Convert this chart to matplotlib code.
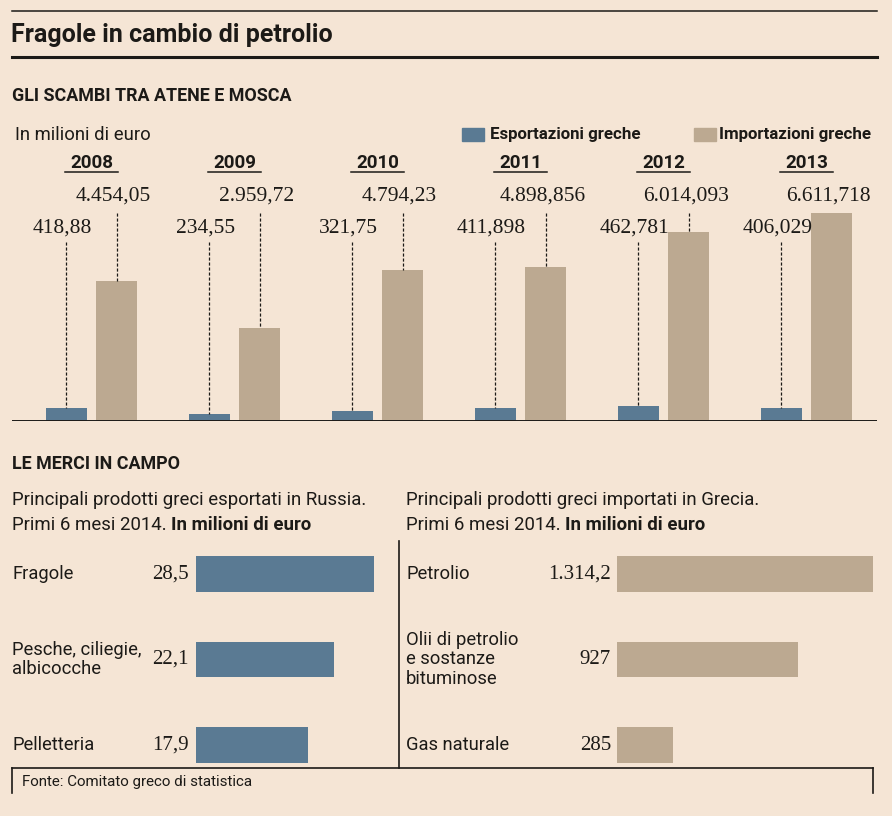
import numpy as np
import matplotlib
matplotlib.use("Agg")
import matplotlib.pyplot as plt
from matplotlib.lines import Line2D
from matplotlib.transforms import blended_transform_factory

# Dati
anni = ["2008", "2009", "2010", "2011", "2012", "2013"]
export = [418.88, 234.55, 321.75, 411.898, 462.781, 406.029]
importaz = [4454.05, 2959.72, 4794.23, 4898.856, 6014.093, 6611.718]
export_lab = ["418,88", "234,55", "321,75", "411,898", "462,781", "406,029"]
import_lab = ["4.454,05", "2.959,72", "4.794,23", "4.898,856", "6.014,093", "6.611,718"]

prod_exp = ["Fragole", "Pesche, ciliegie,\nalbicocche", "Pelletteria"]
val_exp = [28.5, 22.1, 17.9]
lab_exp = ["28,5", "22,1", "17,9"]

prod_imp = ["Petrolio", "Olii di petrolio\ne sostanze\nbituminose", "Gas naturale"]
val_imp = [1314.2, 927, 285]
lab_imp = ["1.314,2", "927", "285"]

# Stile
SFONDO = "#F5E5D5"
BLU = "#5A7A93"
BEIGE = "#BCA991"
TESTO = "#1C1A17"
SANS = ["Roboto", "DejaVu Sans"]
SERIF = ["Liberation Serif", "DejaVu Serif"]

W, H = 892, 816
fig = plt.figure(figsize=(W / 100, H / 100), dpi=100, facecolor=SFONDO)
renderer = fig.canvas.get_renderer()


def fx(x):
    return x / W


def fy(y):
    return 1 - y / H


def riga(x0, x1, y0, y1, lw=1.0):
    fig.add_artist(Line2D([fx(x0), fx(x1)], [fy(y0), fy(y1)], color=TESTO, lw=lw))


def testo(x, y, s, **kw):
    kw.setdefault("color", TESTO)
    kw.setdefault("va", "center")
    kw.setdefault("family", SANS)
    return fig.text(fx(x), fy(y), s, **kw)


def riga_mista(x, y, normale, grassetto, fs):
    t = testo(x, y, normale, fontsize=fs)
    larg = t.get_window_extent(renderer).width
    testo(x + larg + 4, y, grassetto, fontsize=fs, weight="bold")


# Cornice e titoli
riga(12, 877, 11, 11, 1.1)
riga(12, 877, 57, 57, 2.2)
testo(11, 35, "Fragole in cambio di petrolio", fontsize=18, weight="bold")
testo(12, 96, "GLI SCAMBI TRA ATENE E MOSCA", fontsize=12.9, weight="bold")
testo(15, 135, "In milioni di euro", fontsize=13.3)

# Legenda
fig.add_artist(plt.Rectangle((fx(462), fy(141)), fx(22), 13 / H, color=BLU))
testo(490, 135, "Esportazioni greche", fontsize=12.2, weight="bold")
fig.add_artist(plt.Rectangle((fx(694), fy(141)), fx(22), 13 / H, color=BEIGE))
testo(719, 135, "Importazioni greche", fontsize=12.2, weight="bold")

# Grafico a colonne
ax = fig.add_axes([fx(12), fy(421), fx(877 - 12), (421 - 150) / H])
ax.set_facecolor("none")
ax.axis("off")
ymax = max(importaz) * 271 / 208
ax.set_xlim(-0.556, 5.493)
ax.set_ylim(0, ymax)
x = np.arange(len(anni))
off = 0.175
ax.bar(x - off, export, width=0.287, color=BLU)
ax.bar(x + off, importaz, width=0.287, color=BEIGE)
ax.axhline(0, color=TESTO, lw=1.4)

for i in range(len(anni)):
    ax.text(x[i], ymax * 0.952, anni[i], ha="center", va="center", fontsize=13.5,
            weight="bold", family=SANS, color=TESTO)
    ax.plot([x[i] - 0.182, x[i] + 0.182], [ymax * 0.918] * 2, color=TESTO, lw=1.1)
    ax.text(x[i] + off - 0.02, ymax * 0.83, import_lab[i], ha="center", va="center",
            fontsize=15.5, family=SERIF, color=TESTO)
    ax.text(x[i] - off - 0.03, ymax * 0.712, export_lab[i], ha="center", va="center",
            fontsize=15.5, family=SERIF, color=TESTO)
    ax.plot([x[i] + off] * 2, [ymax * 0.768, importaz[i]], color=TESTO, lw=0.9,
            ls=(0, (2.5, 1.5)))
    ax.plot([x[i] - off] * 2, [ymax * 0.66, export[i]], color=TESTO, lw=0.9,
            ls=(0, (2.5, 1.5)))

# Seconda parte
testo(12, 464, "LE MERCI IN CAMPO", fontsize=12.9, weight="bold")
testo(12, 500, "Principali prodotti greci esportati in Russia.", fontsize=13.4)
riga_mista(12, 525, "Primi 6 mesi 2014.", "In milioni di euro", 13.4)
testo(406, 500, "Principali prodotti greci importati in Grecia.", fontsize=13.4)
riga_mista(406, 525, "Primi 6 mesi 2014.", "In milioni di euro", 13.4)

riga(399, 399, 541, 768, 1.2)
riga(12, 873, 768, 768, 1.2)
riga(12, 12, 768, 793, 1.2)
riga(873, 873, 768, 793, 1.2)
testo(22, 782, "Fonte: Comitato greco di statistica", fontsize=10.9)


def barre_orizz(x0, x1, scala, prodotti, valori, etichette, colore, x_lab, x_val):
    a = fig.add_axes([fx(x0), fy(787.75), fx(x1 - x0), 256.5 / H])
    a.set_facecolor("none")
    a.axis("off")
    a.set_xlim(0, (x1 - x0) / scala)
    a.set_ylim(2.5, -0.5)
    y = np.arange(len(prodotti))
    a.barh(y, valori, height=0.41, color=colore)
    tr = blended_transform_factory(fig.transFigure, a.transData)
    for j in range(len(prodotti)):
        a.text(fx(x_lab), y[j], prodotti[j], transform=tr, ha="left", va="center",
               fontsize=13.2, family=SANS, color=TESTO, linespacing=1.1)
        a.text(fx(x_val), y[j], etichette[j], transform=tr, ha="right", va="center",
               fontsize=15, family=SERIF, color=TESTO)
    return a


barre_orizz(196, 380, 6.25, prod_exp, val_exp, lab_exp, BLU, 12, 189)
barre_orizz(617, 885, 256 / 1314.2, prod_imp, val_imp, lab_imp, BEIGE, 406, 611)

fig.savefig("out.png", dpi=100, facecolor=SFONDO)
